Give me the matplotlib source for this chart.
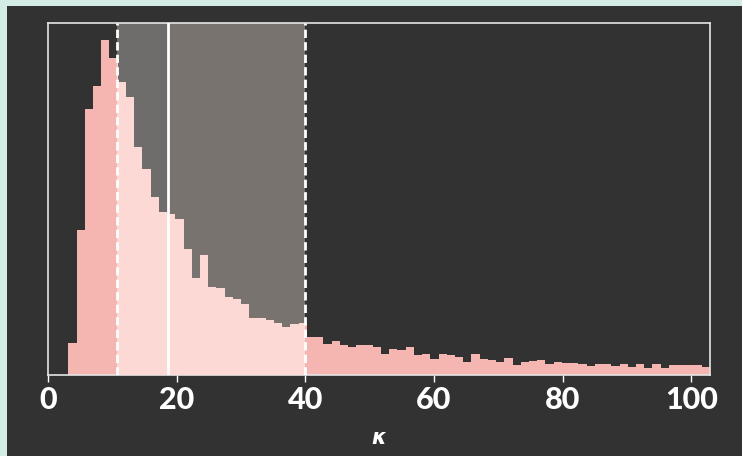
import numpy as np
import matplotlib
matplotlib.use("Agg")
import matplotlib.pyplot as plt
from matplotlib.patches import Rectangle

# Histogram of kappa samples (counts per bin, equal-width bins)
kappa_min = 3.16
kappa_max = 102.9
counts = [64, 290, 532, 578, 670, 634, 586, 556, 456, 412,
          356, 326, 322, 312, 252, 194, 240, 176, 174, 156,
          152, 142, 114, 114, 110, 104, 96, 102, 104, 76,
          76, 62, 68, 60, 56, 60, 60, 56, 42, 52,
          50, 56, 40, 42, 32, 42, 40, 36, 26, 42,
          32, 30, 26, 34, 20, 26, 28, 30, 22, 26,
          24, 23, 21, 17, 21, 21, 17, 21, 16, 21,
          13, 21, 13, 20, 20, 20, 20, 16]
# Credible interval and median
ci_low, ci_high = 10.8, 40.0
kappa_median = 18.7
xticks = [0, 20, 40, 60, 80, 100]

edges = np.linspace(kappa_min, kappa_max, len(counts) + 1)

BG = "#323232"
PINK = "#f5b6b1"
PINK_LIGHT = "#fcd9d5"
SPAN_L = "#6f6d6c"
SPAN_R = "#78736f"
FRAME = "#d4ece6"

fig = plt.figure(figsize=(7.42, 4.5605), dpi=100, facecolor=FRAME)
fig.patches.append(Rectangle((7 / 742, 0), 1, 1 - 6 / 456, transform=fig.transFigure,
                             facecolor=BG, edgecolor="none", zorder=-10))

ax = fig.add_axes([48 / 742, (456 - 375) / 456, (710 - 48) / 742, (375 - 23) / 456])
ax.set_facecolor(BG)

ax.axvspan(ci_low, kappa_median, color=SPAN_L, lw=0, zorder=1)
ax.axvspan(kappa_median, ci_high, color=SPAN_R, lw=0, zorder=1)

ax.stairs(counts, edges, fill=True, color=PINK, lw=0, zorder=2)
inner = ax.stairs(counts, edges, fill=True, color=PINK_LIGHT, lw=0, zorder=3)
clip = Rectangle((ci_low, 0), ci_high - ci_low, max(counts) * 2, transform=ax.transData)
inner.set_clip_path(clip)

ax.axvline(ci_low, color="white", lw=2, ls=(0, (3, 1.5)), zorder=4)
ax.axvline(ci_high, color="white", lw=2, ls=(0, (3, 1.5)), zorder=4)
ax.axvline(kappa_median, color="white", lw=2, zorder=4)

ax.set_xlim(0, kappa_max)
ax.set_ylim(0, max(counts) * 1.05)
ax.set_yticks([])
ax.set_xticks(xticks)
ax.set_xticklabels([str(t) for t in xticks], fontsize=22, fontweight=900,
                   family=["Lato", "DejaVu Sans"], color="white")
ax.tick_params(axis="x", colors="white", length=5, width=1, pad=3, labelcolor="white")

for s in ax.spines.values():
    s.set_color("#e6e6e6")
    s.set_linewidth(1.2)

ax.set_xlabel("κ", fontsize=15, fontweight="bold", fontstyle="italic",
              family=["DejaVu Sans"], color="white", labelpad=10)

fig.savefig("out.png", dpi=100, facecolor=FRAME)
